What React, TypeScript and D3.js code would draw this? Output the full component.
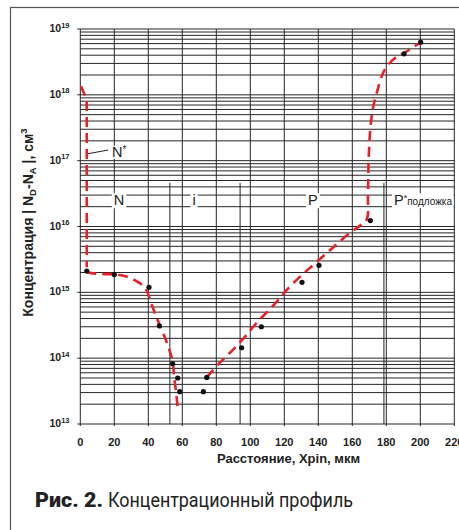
import { useEffect, useRef } from "react";
import * as d3 from "d3";

const W = 459;
const H = 530;

// axes
const xTicks = [0, 20, 40, 60, 80, 100, 120, 140, 160, 180, 200, 220];
const decades = [13, 14, 15, 16, 17, 18, 19];

// region boundaries (мкм) and labels
const regionBounds = [52.7, 94, 178.6];
const regionTop = 4.6e16;
const regionLabels = ["N", "i", "P"];
const regionLabelX = [22.8, 66.9, 136.8];
const regionLabelN = 2.6e16;
const substrateLabelX = 201.6;

// measured points
const measuredX = [3.8, 20, 40.4, 46.5, 54.3, 57.3, 58.5, 72.4, 74.4, 94.9, 106.5, 130.4, 140.4, 170.6, 190.4, 200.2];
const measuredN = [2.1e15, 1.86e15, 1.19e15, 3.1e14, 8.3e13, 5.0e13, 3.1e13, 3.1e13, 5.1e13, 1.44e14, 3.0e14, 1.42e15, 2.57e15, 1.23e16, 4.2e18, 6.3e18];

// fitted profile, N+ contact (steep part)
const contactX = [0.4, 3.8, 3.8];
const contactN = [1.35e18, 8.5e17, 2.4e15];
// fitted profile, N region down into i
const fitNX = [3.8, 5, 12, 20, 27, 35, 38.5, 42, 46, 50, 54, 55.5, 56.5, 57.3];
const fitNN = [2.1e15, 2.0e15, 1.9e15, 1.88e15, 1.74e15, 1.38e15, 1.13e15, 6.5e14, 3.5e14, 2.0e14, 9.5e13, 4.5e13, 2.8e13, 1.7e13];
// fitted profile, i up through P to substrate
const fitPX = [74.4, 81, 88, 96, 104, 114, 123, 131, 137, 147, 158.6, 165, 168.6, 169.2, 169.7, 170.6, 172, 174.5, 179, 185, 190.4, 200.2];
const fitPN = [5.1e13, 8e13, 1.2e14, 2e14, 3.5e14, 6.5e14, 1.2e15, 1.9e15, 2.6e15, 4.4e15, 8e15, 1.05e16, 1.3e16, 3e16, 1.2e17, 3e17, 6e17, 1.1e18, 2.4e18, 3.6e18, 4.3e18, 6.3e18];

// N* annotation
const nStarX = 18.7;
const nStarN = 1.14e17;
const leaderX = [4.2, 16.3];
const leaderN = [1.27e17, 1.45e17];

const FONT = "'Liberation Sans', Arial, sans-serif";
const GRID = "#262626";
const RED = "#e8202a";

export default function App() {
  const svgRef = useRef<SVGSVGElement>(null);

  useEffect(() => {
    if (!svgRef.current) return;
    const svg = d3.select(svgRef.current);
    svg.selectAll("*").remove();

    const x = d3.scaleLinear().domain([0, 220]).range([80.3, 454.3]);
    const y = d3.scaleLog().domain([1e13, 1e19]).range([424, 29]);

    svg.append("rect").attr("width", W).attr("height", H).attr("fill", "#fff");

    // outer frame
    svg
      .append("rect")
      .attr("x", 10.5)
      .attr("y", 7.5)
      .attr("width", 600)
      .attr("height", 700)
      .attr("fill", "none")
      .attr("stroke", "#555")
      .attr("stroke-width", 1.2);

    const grid = svg.append("g").attr("stroke", GRID).attr("stroke-width", 1);

    // horizontal log grid
    const hValues: number[] = [];
    decades.slice(0, -1).forEach((d) => {
      for (let k = 1; k <= 9; k++) hValues.push(k * Math.pow(10, d));
    });
    hValues.push(1e19);
    grid
      .selectAll("line.h")
      .data(hValues)
      .enter()
      .append("line")
      .attr("class", "h")
      .attr("x1", (v) => (Math.abs(Math.log10(v) % 1) < 1e-9 ? x(0) - 3 : x(0)))
      .attr("x2", x(220))
      .attr("y1", (v) => y(v))
      .attr("y2", (v) => y(v));

    // vertical grid
    grid
      .selectAll("line.v")
      .data(xTicks)
      .enter()
      .append("line")
      .attr("class", "v")
      .attr("x1", (v) => x(v))
      .attr("x2", (v) => x(v))
      .attr("y1", y(1e19))
      .attr("y2", y(1e13) + 2);

    // region boundaries
    grid
      .selectAll("line.b")
      .data(regionBounds)
      .enter()
      .append("line")
      .attr("class", "b")
      .attr("x1", (v) => x(v))
      .attr("x2", (v) => x(v))
      .attr("y1", y(regionTop))
      .attr("y2", y(1e13));

    // region labels with white backing
    const labelG = svg.append("g").attr("font-family", FONT).attr("font-size", 14.5).attr("fill", "#222");
    regionLabels.forEach((t, i) => {
      const txt = labelG
        .append("text")
        .attr("x", x(regionLabelX[i]))
        .attr("y", y(regionLabelN) + 6)
        .attr("text-anchor", "middle")
        .text(t);
      const bb = (txt.node() as SVGTextElement).getBBox();
      labelG
        .insert("rect", "text")
        .attr("x", bb.x - 2)
        .attr("y", bb.y + 1)
        .attr("width", bb.width + 4)
        .attr("height", bb.height - 1)
        .attr("fill", "#fff");
    });
    const sub = labelG
      .append("text")
      .attr("x", x(substrateLabelX))
      .attr("y", y(regionLabelN) + 6)
      .attr("text-anchor", "middle");
    sub.append("tspan").text("P");
    sub.append("tspan").attr("font-size", 9).attr("dy", -4).text("*");
    sub.append("tspan").attr("font-size", 10).attr("dy", 4).text("подложка");
    const sbb = (sub.node() as SVGTextElement).getBBox();
    labelG
      .insert("rect", "text")
      .attr("x", sbb.x - 2)
      .attr("y", sbb.y + 1)
      .attr("width", sbb.width + 3)
      .attr("height", sbb.height - 1)
      .attr("fill", "#fff");

    // N* annotation
    const nStar = labelG.append("text").attr("x", x(nStarX)).attr("y", y(nStarN));
    nStar.append("tspan").text("N");
    nStar.append("tspan").attr("font-size", 10).attr("dy", -4).text("*");
    const nbb = (nStar.node() as SVGTextElement).getBBox();
    labelG
      .insert("rect", "text")
      .attr("x", nbb.x - 1)
      .attr("y", nbb.y + 2)
      .attr("width", nbb.width + 2)
      .attr("height", nbb.height - 3)
      .attr("fill", "#fff");
    svg
      .append("line")
      .attr("x1", x(leaderX[0]))
      .attr("y1", y(leaderN[0]))
      .attr("x2", x(leaderX[1]))
      .attr("y2", y(leaderN[1]))
      .attr("stroke", "#222")
      .attr("stroke-width", 1);

    // fitted curves
    const pts = (xs: number[], ns: number[]) => xs.map((v, i) => [v, ns[i]] as [number, number]);
    const straight = d3
      .line<[number, number]>()
      .x((d) => x(d[0]))
      .y((d) => y(d[1]));
    const smooth = d3
      .line<[number, number]>()
      .x((d) => x(d[0]))
      .y((d) => y(d[1]))
      .curve(d3.curveCatmullRom.alpha(0.5));
    const curves = svg
      .append("g")
      .attr("fill", "none")
      .attr("stroke", RED)
      .attr("stroke-width", 2.6)
      .attr("stroke-dasharray", "10 6");
    curves.append("path").attr("d", straight(pts(contactX, contactN)));
    curves.append("path").attr("d", smooth(pts(fitNX, fitNN)));
    curves.append("path").attr("d", smooth(pts(fitPX, fitPN)));

    // measured dots
    svg
      .append("g")
      .selectAll("circle")
      .data(pts(measuredX, measuredN))
      .enter()
      .append("circle")
      .attr("cx", (d) => x(d[0]))
      .attr("cy", (d) => y(d[1]))
      .attr("r", 2.6)
      .attr("fill", "#111");

    // y tick labels 10^n
    const yl = svg.append("g").attr("font-family", FONT).attr("font-weight", "bold").attr("fill", "#222");
    decades.forEach((d) => {
      const t = yl
        .append("text")
        .attr("x", 69.5)
        .attr("y", y(Math.pow(10, d)) + 3)
        .attr("text-anchor", "end")
        .attr("font-size", 10.5);
      t.append("tspan").text("10");
      t.append("tspan").attr("font-size", 7.5).attr("dy", -4.5).text(String(d));
    });

    // x tick labels
    svg
      .append("g")
      .attr("font-family", FONT)
      .attr("font-weight", "bold")
      .attr("font-size", 11)
      .attr("fill", "#222")
      .selectAll("text")
      .data(xTicks)
      .enter()
      .append("text")
      .attr("x", (v) => x(v))
      .attr("y", 445.5)
      .attr("text-anchor", "middle")
      .text((v) => String(v));

    // axis titles
    svg
      .append("text")
      .attr("x", 288.5)
      .attr("y", 463)
      .attr("text-anchor", "middle")
      .attr("font-family", FONT)
      .attr("font-weight", "bold")
      .attr("font-size", 13)
      .attr("fill", "#222")
      .text("Расстояние, Xpin, мкм");

    const yt = svg
      .append("text")
      .attr("transform", "translate(33,222.5) rotate(-90)")
      .attr("text-anchor", "middle")
      .attr("font-family", FONT)
      .attr("font-weight", "bold")
      .attr("font-size", 14)
      .attr("fill", "#222");
    yt.append("tspan").text("Концентрация | N");
    yt.append("tspan").attr("font-size", 9.5).attr("dy", 3).text("D");
    yt.append("tspan").attr("dy", -3).text("-N");
    yt.append("tspan").attr("font-size", 9.5).attr("dy", 3).text("A");
    yt.append("tspan").attr("dy", -3).text(" |, см");
    yt.append("tspan").attr("font-size", 9.5).attr("dy", -6).text("3");

    // caption
    svg
      .append("text")
      .attr("x", 35)
      .attr("y", 507)
      .attr("font-family", "Roboto, sans-serif")
      .attr("font-weight", 900)
      .attr("font-size", 19.5)
      .attr("fill", "#222")
      .attr("textLength", 68)
      .attr("lengthAdjust", "spacingAndGlyphs")
      .text("Рис. 2.");
    svg
      .append("text")
      .attr("x", 108)
      .attr("y", 507)
      .attr("font-family", "Roboto, sans-serif")
      .attr("font-size", 19.5)
      .attr("fill", "#222")
      .attr("textLength", 245)
      .attr("lengthAdjust", "spacingAndGlyphs")
      .text("Концентрационный профиль");
  }, []);

  return (
    <div style={{ position: "absolute", left: 0, top: 0 }}>
      <svg ref={svgRef} width={W} height={H} style={{ display: "block" }} />
    </div>
  );
}
